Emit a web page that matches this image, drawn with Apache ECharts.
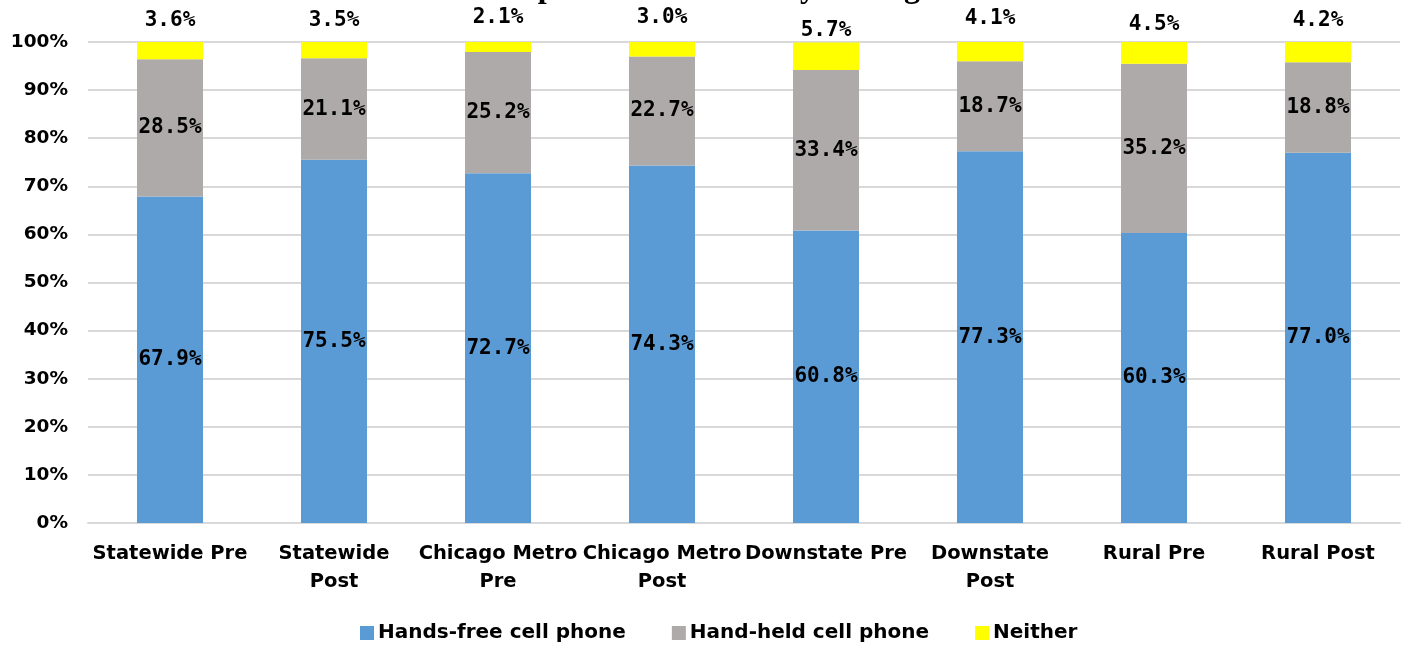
<!DOCTYPE html>
<html>
<head>
<meta charset="utf-8">
<script src="https://cdn.jsdelivr.net/npm/echarts@6/dist/echarts.min.js"></script>
<style>html,body{margin:0;padding:0;background:#fff}#c{width:1408px;height:646px}</style>
</head>
<body>
<div id="c"></div>
<script>
var categories = ["Statewide Pre", "Statewide\nPost", "Chicago Metro\nPre", "Chicago Metro\nPost", "Downstate Pre", "Downstate\nPost", "Rural Pre", "Rural Post"];
var handsFree = [67.9, 75.5, 72.7, 74.3, 60.8, 77.3, 60.3, 77.0];
var handHeld = [28.5, 21.1, 25.2, 22.7, 33.4, 18.7, 35.2, 18.8];
var neither = [3.6, 3.5, 2.1, 3.0, 5.7, 4.1, 4.5, 4.2];
var seriesNames = ["Hands-free cell phone", "Hand-held cell phone", "Neither"];
var yTicks = [0, 10, 20, 30, 40, 50, 60, 70, 80, 90, 100];

// label nudges for the "Neither" labels (style only)
var neitherLabelLift = [11, 11, 14, 14, 1, 13, 7, 11];

var chart = echarts.init(document.getElementById('c'));
var labelFont = {fontFamily: 'DejaVu Sans Mono', fontWeight: 'bold', fontSize: 21, color: '#000'};
function pct(p) { return p.value.toFixed(1) + '%'; }

chart.setOption({
  animation: false,
  title: {
    text: 'Responses of Drivers by Setting',
    left: 'center', top: -32,
    textStyle: {fontFamily: 'Liberation Serif', fontWeight: 'bold', fontSize: 32, color: '#000'}
  },
  grid: {left: 88, right: 8, top: 42, bottom: 123},
  legend: {
    bottom: -2, left: 355,
    itemWidth: 14, itemHeight: 14, itemGap: 46,
    icon: 'rect',
    textStyle: {fontFamily: 'DejaVu Sans', fontWeight: 'bold', fontSize: 20, color: '#000', padding: [0, 0, 0, -1]},
    data: seriesNames
  },
  xAxis: {
    type: 'category', data: categories,
    axisLine: {lineStyle: {color: '#d9d9d9', width: 2}},
    axisTick: {show: false},
    axisLabel: {interval: 0, fontFamily: 'DejaVu Sans', fontWeight: 'bold', fontSize: 19.5, color: '#000', lineHeight: 28, margin: 17}
  },
  yAxis: {
    type: 'value', min: 0, max: 100, interval: 10,
    axisLine: {show: false}, axisTick: {show: false},
    splitLine: {lineStyle: {color: '#d9d9d9', width: 2}},
    axisLabel: {fontFamily: 'DejaVu Sans', fontWeight: 'bold', fontSize: 18.5, color: '#000', margin: 20,
      formatter: function (v) { return yTicks.indexOf(v) >= 0 ? v + '%' : ''; }}
  },
  series: [
    {name: seriesNames[0], type: 'bar', stack: 's', data: handsFree, barWidth: 66,
      itemStyle: {color: '#5b9bd5'},
      label: Object.assign({show: true, position: 'inside', formatter: pct}, labelFont)},
    {name: seriesNames[1], type: 'bar', stack: 's', data: handHeld, barWidth: 66,
      itemStyle: {color: '#aeaaaa'},
      label: Object.assign({show: true, position: 'inside', formatter: pct}, labelFont)},
    {name: seriesNames[2], type: 'bar', stack: 's', barWidth: 66,
      itemStyle: {color: '#ffff00'},
      data: neither.map(function (v, i) {
        return {value: v, label: {offset: [0, -neitherLabelLift[i]]}};
      }),
      label: Object.assign({show: true, position: 'top', distance: 0, formatter: pct}, labelFont)}
  ]
});
</script>
</body>
</html>
